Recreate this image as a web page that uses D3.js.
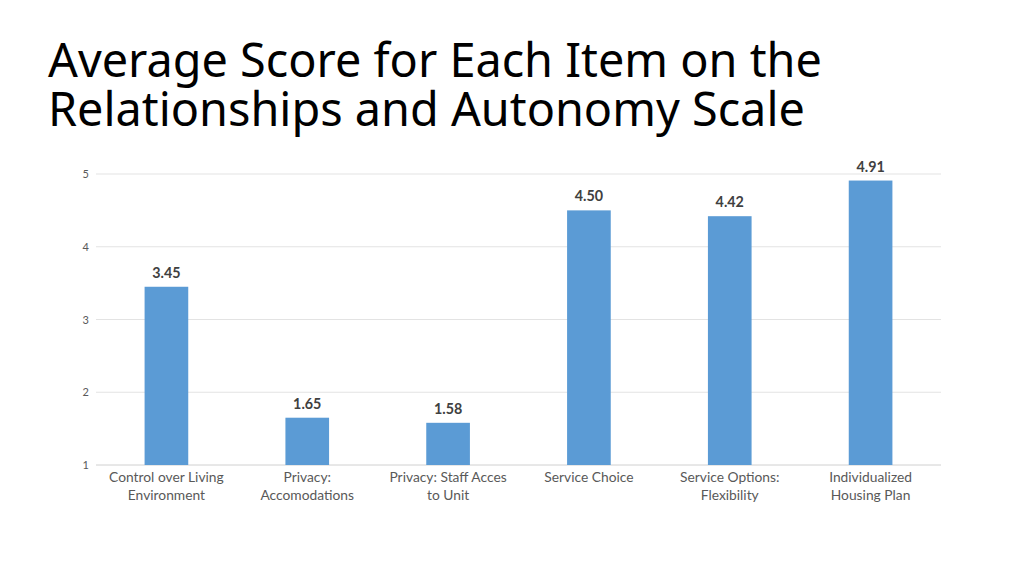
<!DOCTYPE html>
<html><head><meta charset="utf-8">
<script src="https://cdn.jsdelivr.net/npm/d3@7"></script>
<style>body{margin:0;background:#fff;}svg{display:block;}</style>
</head><body>
<svg id="chart" width="1024" height="575"></svg>
<script>
const titleLines = ["Average Score for Each Item on the", "Relationships and Autonomy Scale"];
const categories = [
  ["Control over Living", "Environment"],
  ["Privacy:", "Accomodations"],
  ["Privacy: Staff Acces", "to Unit"],
  ["Service Choice"],
  ["Service Options:", "Flexibility"],
  ["Individualized", "Housing Plan"]
];
const values = [3.45, 1.65, 1.58, 4.50, 4.42, 4.91];
const yTicks = [1, 2, 3, 4, 5];

const svg = d3.select("#chart");
const margin = {left: 96, right: 83, top: 174, bottom: 110};
const W = 1024, H = 575;

const title = svg.append("text").attr("x", 48).attr("y", 77)
  .attr("font-family", "'Noto Sans', 'Open Sans', sans-serif")
  .attr("font-size", 46.8).attr("fill", "#000");
titleLines.forEach((l, i) => title.append("tspan").attr("x", 48).attr("dy", i === 0 ? 0 : 49).text(l));

const x = d3.scaleBand().domain(d3.range(categories.length))
  .range([margin.left, W - margin.right]).paddingInner(0.69).paddingOuter(0.345);
const y = d3.scaleLinear().domain([1, 5]).range([H - margin.bottom, margin.top]);

const grid = svg.append("g");
grid.selectAll("line").data(yTicks).join("line")
  .attr("x1", margin.left).attr("x2", W - margin.right)
  .attr("y1", d => y(d)).attr("y2", d => y(d))
  .attr("stroke", d => d === 1 ? "#d0d0d0" : "#e3e3e3").attr("stroke-width", 1);

const yAxis = d3.axisLeft(y).tickValues(yTicks).tickFormat(d3.format("d")).tickSize(0).tickPadding(7);
const ya = svg.append("g").attr("transform", `translate(${margin.left},0)`).call(yAxis);
ya.select(".domain").remove();
ya.selectAll("text").attr("font-family", "Lato, Carlito, sans-serif").attr("font-size", 11).attr("fill", "#595959");

svg.append("g").selectAll("rect").data(values).join("rect")
  .attr("x", (d, i) => x(i)).attr("width", x.bandwidth())
  .attr("y", d => y(d)).attr("height", d => y(1) - y(d))
  .attr("fill", "#5b9bd5");

svg.append("g").selectAll("text").data(values).join("text")
  .attr("x", (d, i) => x(i) + x.bandwidth() / 2).attr("y", d => y(d) - 9)
  .attr("text-anchor", "middle")
  .attr("font-family", "Lato, Carlito, sans-serif").attr("font-weight", "bold")
  .attr("font-size", 14.3).attr("fill", "#404040")
  .text(d => d.toFixed(2));

const xl = svg.append("g");
categories.forEach((lines, i) => {
  const t = xl.append("text").attr("x", x(i) + x.bandwidth() / 2).attr("y", y(1) + 17)
    .attr("text-anchor", "middle")
    .attr("font-family", "Lato, Carlito, sans-serif").attr("font-size", 13.8).attr("fill", "#595959");
  lines.forEach((l, j) => t.append("tspan").attr("x", x(i) + x.bandwidth() / 2).attr("dy", j === 0 ? 0 : 18).text(l));
});
</script>
</body></html>
